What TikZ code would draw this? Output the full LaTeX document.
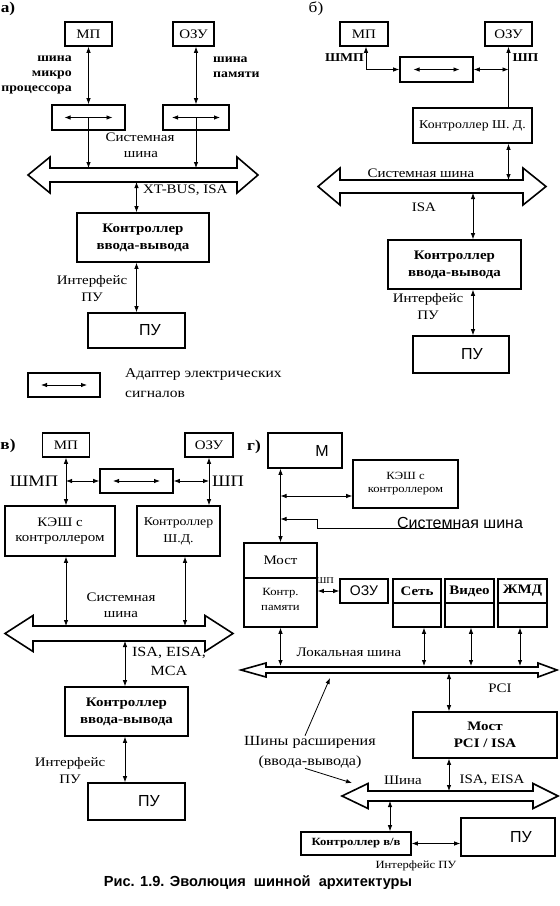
\documentclass[tikz,border=0pt]{standalone}
\usepackage{fontspec}
\setmainfont{Liberation Serif}[FakeStretch=1.15]
\setsansfont{Liberation Sans}
\usetikzlibrary{arrows.meta,calc}
\newcommand\setfs[2]{\fontsize{#1}{#2}\selectfont}
\newcommand\hbus[7]{%
  \draw[bus] (#1,#5) -- (#2,#5-#7) -- (#2,#5-#6) -- (#3,#5-#6) -- (#3,#5-#7) -- (#4,#5)
    -- (#3,#5+#7) -- (#3,#5+#6) -- (#2,#5+#6) -- (#2,#5+#7) -- cycle;}
\tikzset{
  box/.style 2 args={draw, line width=1.6pt, inner sep=0pt, align=center,
    minimum width=#1pt, minimum height=#2pt, font=\setfs{13}{15}},
  boxline/.style={line width=1.6pt},
  txt/.style={inner sep=0pt, align=center, font=\setfs{13}{17}},
  btxt/.style={inner sep=0pt, align=center, font=\bfseries\setfs{12}{15}},
  stxt/.style={inner sep=0pt, align=center, font=\sffamily\setfs{16}{16}},
  conn/.style={line width=0.8pt},
  biarrow/.style={conn, {Latex[length=6pt,width=4.5pt]}-{Latex[length=6pt,width=4.5pt]}},
  arr/.style={conn, -{Latex[length=6pt,width=4.5pt]}},
  bus/.style={line width=1.6pt, line join=miter},
}
\begin{document}
\begin{tikzpicture}[x=1pt,y=-1pt]
\useasboundingbox (0,0) rectangle (560,906);
% ---------------- panel a
\node[txt, font=\bfseries\setfs{15}{15}] (aLab) at (8,9) {а)};
\node[box={47}{24}] (aMP) at (88.5,34) {МП};
\node[box={41}{24}] (aOZU) at (193.5,34) {ОЗУ};
\node[btxt, align=right, anchor=east] (aMPbus) at (72,75) {шина\\микро\\процессора};
\node[btxt, align=left, anchor=west] (aMemBus) at (213,67.5) {шина\\памяти};
\node[box={73}{25}] (aAd1) at (88.5,117.5) {};
\node[box={66}{25}] (aAd2) at (196,117.5) {};
\draw[biarrow] ([xshift=-24pt]aAd1.center) -- ([xshift=24pt]aAd1.center);
\draw[biarrow] ([xshift=-24pt]aAd2.center) -- ([xshift=24pt]aAd2.center);
\draw[biarrow] (aMP.south) -- (aAd1.north);
\draw[biarrow] (aOZU.south -| aAd2.north) -- (aAd2.north);
\node[txt] (aSys1) at (140,137) {Системная};
\node[txt] (aSys2) at (141,155) {шина};
\coordinate (aBusT) at (0,168);
\coordinate (aBusB) at (0,182);
\draw[arr] (aAd1.center) -- (aAd1.center |- aBusT);
\draw[arr] (aAd2.center) -- (aAd2.center |- aBusT);
\hbus{28}{50}{237}{258}{175}{7}{18}
\node[txt, anchor=west] (aXT) at (143,190) {XT-BUS, ISA};
\node[box={132}{49}, font=\bfseries\setfs{13}{17}] (aCtl) at (143,237.5) {Контроллер\\ввода-вывода};
\node[box={97}{35}, font=\sffamily\setfs{16}{16}] (aPU) at (136.5,330.5) {\hspace*{27pt}ПУ};
\draw[biarrow] (aPU.north |- aBusB) -- (aPU.north |- aCtl.north);
\draw[biarrow] (aPU.north |- aCtl.south) -- (aPU.north);
\node[txt] (aIf) at (92,288.5) {Интерфейс\\ПУ};
\node[box={72}{24}] (aLeg) at (64,385) {};
\draw[biarrow] ([xshift=-23pt]aLeg.center) -- ([xshift=23pt]aLeg.center);
\node[txt, align=left, anchor=west, font=\setfs{13.5}{20}] (aLegT) at (125,383) {Адаптер электрических\\сигналов};
% ---------------- panel b
\node[txt, font=\setfs{15}{15}] (bLab) at (316,9) {б)};
\node[box={48}{24}] (bMP) at (364,34) {МП};
\node[box={47}{24}] (bOZU) at (508.5,34) {ОЗУ};
\node[btxt] (bShmp) at (344.5,58) {ШМП};
\node[btxt] (bShp) at (525.5,58) {ШП};
\node[box={73}{25}] (bAd) at (436.5,69.5) {};
\draw[biarrow] ([xshift=-23pt]bAd.center) -- ([xshift=23pt]bAd.center);
\draw[biarrow] ([xshift=2pt]bMP.south) |- (bAd.west);
\draw[biarrow] (bAd.east) -- (bAd.east -| bOZU.south);
\node[box={119}{35}, font=\setfs{12}{14}] (bSD) at (472.5,125.5) {Контроллер Ш. Д.};
\draw[arr] (bOZU.south |- bSD.north) -- (bOZU.south);
\coordinate (bBusT) at (0,180);
\coordinate (bBusB) at (0,193);
\draw[biarrow] (bOZU.south |- bSD.south) -- (bOZU.south |- bBusT);
\hbus{318}{340}{523}{546}{186.5}{6.5}{18.5}
\node[txt] (bSys) at (421,173) {Системная шина};
\node[txt] (bISA) at (424,207) {ISA};
\node[box={133}{49}, font=\bfseries\setfs{13}{17}] (bCtl) at (454.5,264.5) {Контроллер\\ввода-вывода};
\node[box={96}{37}, font=\sffamily\setfs{16}{16}] (bPU) at (461,354.5) {\hspace*{22pt}ПУ};
\coordinate (bX) at (473,0);
\draw[biarrow] (bX |- bBusB) -- (bX |- bCtl.north);
\draw[biarrow] (bX |- bCtl.south) -- (bX |- bPU.north);
\node[txt] (bIf) at (428,307) {Интерфейс\\ПУ};
% ---------------- panel v
\node[txt, font=\bfseries\setfs{15}{15}] (vLab) at (8,446) {в)};
\node[box={47}{24}] (vMP) at (66,445) {МП};
\node[box={48}{24}] (vOZU) at (209,445) {ОЗУ};
\node[box={73}{24}] (vAd) at (136.5,481) {};
\draw[biarrow] ([xshift=-23.5pt]vAd.center) -- ([xshift=23.5pt]vAd.center);
\node[box={110}{50}] (vKESH) at (60,531) {КЭШ с\\контроллером};
\node[box={83}{50}, font=\setfs{12}{17}] (vSD) at (178.5,531) {Контроллер\\Ш.Д.};
\draw[biarrow] (vMP.south) -- (vMP.south |- vKESH.north);
\draw[biarrow] (vMP.south |- vAd.west) -- (vAd.west);
\draw[biarrow] (vOZU.south) -- (vOZU.south |- vSD.north);
\draw[biarrow] (vAd.east) -- (vAd.east -| vOZU.south);
\node[txt, font=\setfs{16}{16}] (vShmp) at (34,481) {ШМП};
\node[txt, font=\setfs{16}{16}] (vShp) at (228,481) {ШП};
\coordinate (vBusT) at (0,626);
\coordinate (vBusB) at (0,641);
\coordinate (vX2) at (185,0);
\draw[biarrow] (vMP.south |- vKESH.south) -- (vMP.south |- vBusT);
\draw[biarrow] (vX2 |- vSD.south) -- (vX2 |- vBusT);
\node[txt] (vSys1) at (121,597) {Системная};
\node[txt] (vSys2) at (121,615) {шина};
\hbus{5}{33}{205}{233}{633.5}{7.5}{18}
\node[txt, font=\setfs{14}{19}] (vISA) at (169,661.5) {ISA, EISA,\\MCA};
\node[box={123}{49}, font=\bfseries\setfs{13}{17}] (vCtl) at (126.5,711.5) {Контроллер\\ввода-вывода};
\node[box={97}{37}, font=\sffamily\setfs{16}{16}] (vPU) at (136.5,801.5) {\hspace*{25pt}ПУ};
\coordinate (vX3) at (125,0);
\draw[biarrow] (vX3 |- vBusB) -- (vX3 |- vCtl.north);
\draw[biarrow] (vX3 |- vCtl.south) -- (vX3 |- vPU.north);
\node[txt] (vIf) at (70,771) {Интерфейс\\ПУ};
% ---------------- panel g
\node[txt, font=\bfseries\setfs{15}{15}] (gLab) at (254,447) {г)};
\node[box={74}{35}, font=\sffamily\setfs{16}{16}] (gM) at (305,450.5) {\hspace*{34pt}М};
\node[box={105}{48}, font=\setfs{11}{13}] (gKESH) at (405.5,484) {КЭШ с\\контроллером};
\node[box={73}{84}] (gMost) at (280.5,585) {};
\draw[boxline] ([yshift=-36pt]gMost.north west) -- ([yshift=-36pt]gMost.north east);
\node[txt] (gMostT) at (280.5,560) {Мост};
\node[txt, font=\setfs{11}{15}] (gMem) at (280.5,599.5) {Контр.\\памяти};
\draw[biarrow] (gMost.north |- gM.south) -- (gMost.north);
\coordinate (gKa) at ([yshift=-12pt]gKESH.west);
\draw[biarrow] (gKa -| gMost.north) -- (gKa);
\node[stxt] (gSys) at (460,523) {Системная шина};
\coordinate (gSb) at (317,519);
\draw[arr] (gSys.south) -| (gSb) -- (gSb -| gMost.north);
\node[box={48}{24}, font=\sffamily\setfs{14}{14}] (gOZU) at (364,591) {ОЗУ};
\node[txt, font=\setfs{9}{9}] (gShp) at (325,581) {ШП};
\draw[biarrow] (gMost.east |- gOZU.west) -- (gOZU.west);
\node[box={48}{48}] (gNet) at (417,603) {};
\node[box={49}{48}] (gVid) at (469.5,603) {};
\node[box={49}{48}] (gHDD) at (522.5,603) {};
\draw[boxline] (gNet.west) -- (gNet.east);
\draw[boxline] (gVid.west) -- (gVid.east);
\draw[boxline] (gHDD.west) -- (gHDD.east);
\node[btxt, font=\bfseries\setfs{13}{13}] (gNetT) at (417,591) {Сеть};
\node[btxt, font=\bfseries\setfs{13}{13}] (gVidT) at (469.5,591) {Видео};
\node[btxt, font=\bfseries\setfs{13}{13}] (gHDDT) at (522.5,591) {ЖМД};
\coordinate (gLT) at (0,666);
\coordinate (gLB) at (0,673);
\coordinate (gNx) at (424,0);
\coordinate (gVx) at (471,0);
\coordinate (gHx) at (520,0);
\draw[biarrow] (gMost.south) -- (gMost.south |- gLT);
\draw[biarrow] (gNx |- gNet.south) -- (gNx |- gLT);
\draw[biarrow] (gVx |- gVid.south) -- (gVx |- gLT);
\draw[biarrow] (gHx |- gHDD.south) -- (gHx |- gLT);
\hbus{241}{266}{538}{557}{670}{3}{7}
\node[txt] (gLoc) at (349,652) {Локальная шина};
\node[txt] (gPCI) at (500,688) {PCI};
\node[box={144}{46}, font=\bfseries\setfs{13}{17}] (gBr) at (485,735) {Мост\\PCI / ISA};
\coordinate (gBx) at (449,0);
\coordinate (gIT) at (0,791);
\coordinate (gIB) at (0,801);
\draw[biarrow] (gBx |- gLB) -- (gBx |- gBr.north);
\draw[biarrow] (gBx |- gBr.south) -- (gBx |- gIT);
\hbus{342}{368}{533}{558}{796}{5}{12.5}
\node[txt] (gShina) at (403,780) {Шина};
\node[txt] (gISA) at (492,780) {ISA, EISA};
\node[txt, font=\setfs{14}{20}] (gExt) at (310,752) {Шины расширения\\(ввода-вывода)};
\coordinate (gP1) at (330,678);
\coordinate (gP2) at (352,783);
\draw[arr] ([xshift=-5pt]gExt.north) -- (gP1);
\draw[arr] ([xshift=-5pt]gExt.south) -- (gP2);
\node[box={110}{23}, font=\bfseries\setfs{11}{11}] (gIO) at (356,843.5) {Контроллер в/в};
\node[box={94}{38}, font=\sffamily\setfs{16}{16}] (gPU) at (508,837) {\hspace*{26pt}ПУ};
\coordinate (gIx) at (390,0);
\draw[biarrow] (gIx |- gIB) -- (gIx |- gIO.north);
\draw[biarrow] (gIO.east) -- (gIO.east -| gPU.west);
\node[txt, font=\setfs{11}{11}] (gIf) at (416,866) {Интерфейс ПУ};
% caption
\node[inner sep=0pt, font=\sffamily\bfseries\setfs{14.6}{14.6}] (cap) at (258,883) {Рис. 1.9. Эволюция\ \ шинной\ \ архитектуры};
\end{tikzpicture}
\end{document}
